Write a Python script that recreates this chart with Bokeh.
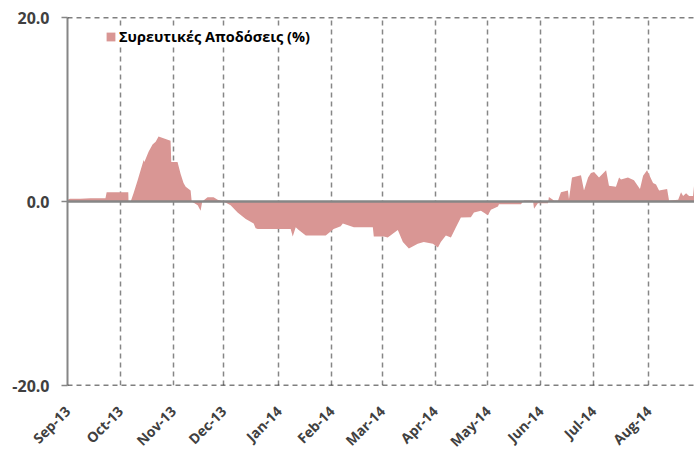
import math
from bokeh.plotting import figure
from bokeh.models import FixedTicker, Span, Legend, LegendItem, ColumnDataSource
from bokeh.embed import file_html
from bokeh.resources import INLINE

# trading-day index and cumulative return (%)
day = [0, 1, 5.4, 9.6, 15.8, 16.3, 20, 25.3, 25.4, 26.3, 27.5, 29.2, 31.7, 32, 33.75,
       35.4, 36.7, 37.9, 41.7, 42.9, 43.2, 45.8, 47.1, 48.3, 49.2, 51.25, 51.7, 54.2,
       55.4, 56.1, 58.3, 60.8, 62.5, 65, 67.9, 70.8, 74.2, 77.5, 78.3, 79.2, 92.9,
       93.75, 95, 96.25, 99.2, 107.5, 110.8, 113.75, 114.6, 119.2, 127.1, 127.5,
       131.7, 133.3, 137.5, 139.6, 142.1, 145.8, 148.3, 152.1, 154.2, 155.4, 157.5,
       159.6, 161.7, 163.75, 167.9, 169.2, 172.1, 175, 176.25, 179.2, 179.6, 188.75,
       190, 193.75, 194.2, 195.8, 200, 200.4, 202.5, 204.2, 205.4, 208.3, 208.75,
       210, 212.9, 213.75, 215, 216.7, 217.9, 219.2, 221.25, 224.2, 225.4, 228.3,
       229.6, 230.4, 233.3, 235.8, 238.3, 239.6, 241.25, 243.75, 245, 246.25, 249.6,
       250.4, 254.2, 255.4, 256.25, 257.5, 258.75, 260.4, 260.8]
ret = [0.2, 0.3, 0.3, 0.35, 0.36, 1.0, 1.0, 1.0, 0.05, 0.0, 0.9, 2.3, 4.5, 4.3, 5.4,
       6.2, 6.5, 7.07, 6.7, 6.6, 4.3, 4.3, 3.0, 2.0, 1.6, 1.2, 0.0, -0.4,
       -1.0, 0.0, 0.47, 0.45, 0.2, 0.0, -0.4, -1.2, -1.9, -2.4, -2.9, -3.0, -3.0,
       -3.8, -2.8, -3.1, -3.7, -3.7, -3.0, -2.7, -2.4, -2.8, -2.8, -3.8,
       -3.8, -3.9, -3.1, -4.4, -5.1, -4.6, -4.4, -4.6, -5.0, -4.4, -3.7,
       -3.9, -2.8, -1.75, -1.7, -1.2, -1.0, -1.5, -0.9, -0.55, -0.3, -0.3,
       0.1, 0.1, -0.8, -0.2, -0.2, 0.5, 0.1, 0.1, 1.0, 1.2, 0.25,
       2.6, 2.8, 2.85, 1.2, 2.6, 3.1, 3.2, 2.6, 3.4, 1.7, 1.6,
       2.6, 2.4, 2.6, 2.3, 1.35, 2.8, 3.4, 2.0, 1.85, 1.2, 1.35,
       0.1, 0.2, 1.0, 0.6, 0.9, 0.6, 0.6, 1.7]

month_pos = [0, 22, 44, 65, 88, 110, 131, 153, 175, 197, 219, 242]
month_labels = ["Sep-13", "Oct-13", "Nov-13", "Dec-13", "Jan-14", "Feb-14",
                "Mar-14", "Apr-14", "May-14", "Jun-14", "Jul-14", "Aug-14"]
y_ticks = [-20, 0, 20]
y_labels = ["-20.0", "0.0", "20.0"]
series_name = "Συρευτικές Αποδόσεις (%)"

FONT = "Open Sans"
AREA = "#D99694"
GRAY = "#868686"
Y_MIN, Y_MAX = -20, 20

p = figure(width=694, height=460, x_range=(0, 261), y_range=(Y_MIN, Y_MAX),
           output_backend="svg", toolbar_location=None,
           min_border_left=67, min_border_top=17, min_border_right=0,
           min_border_bottom=75)
p.outline_line_color = None
p.background_fill_color = "white"

src = ColumnDataSource(dict(x=day, y=ret, z=[0] * len(day)))
r = p.varea(x="x", y1="z", y2="y", source=src, fill_color=AREA)

# x axis
p.xaxis.ticker = FixedTicker(ticks=month_pos)
p.xaxis.major_label_overrides = {m: l for m, l in zip(month_pos, month_labels)}
p.xaxis.major_label_orientation = math.pi / 4
p.xaxis.axis_line_color = None
p.xaxis.major_tick_line_color = None
p.xaxis.minor_tick_line_color = None
p.xaxis.major_label_text_font = FONT
p.xaxis.major_label_text_font_style = "bold"
p.xaxis.major_label_text_font_size = "14px"
p.xaxis.major_label_text_color = "#404040"
p.xaxis.major_label_standoff = 17
p.xgrid.grid_line_color = GRAY
p.xgrid.grid_line_dash = "5 4"
p.xgrid.grid_line_width = 1.5

# y axis
p.yaxis.ticker = FixedTicker(ticks=y_ticks)
p.yaxis.major_label_overrides = {t: l for t, l in zip(y_ticks, y_labels)}
p.yaxis.axis_line_color = GRAY
p.yaxis.axis_line_width = 2
p.yaxis.major_tick_line_color = GRAY
p.yaxis.major_tick_line_width = 1.5
p.yaxis.major_tick_out = 6
p.yaxis.major_tick_in = 0
p.yaxis.minor_tick_line_color = None
p.yaxis.major_label_text_font = FONT
p.yaxis.major_label_text_font_style = "bold"
p.yaxis.major_label_text_font_size = "16px"
p.yaxis.major_label_text_color = "#404040"
p.yaxis.major_label_standoff = 12
p.ygrid.grid_line_color = None

for loc in (Y_MAX, Y_MIN):
    p.add_layout(Span(location=loc, dimension="width", line_color="black",
                      line_dash="5 4", line_width=1.5))
p.add_layout(Span(location=0, dimension="width", line_color=GRAY, line_width=2.5))

legend = Legend(items=[LegendItem(label=series_name, renderers=[r])],
                location=(38, 339), padding=3, margin=0, spacing=0,
                glyph_width=11, glyph_height=11, label_standoff=3,
                label_height=16,
                label_text_font=FONT, label_text_font_style="bold",
                label_text_font_size="14.5px", label_text_color="black",
                border_line_color=None, background_fill_color="white",
                background_fill_alpha=1.0)
p.add_layout(legend)

open("out.html", "w").write(file_html(p, INLINE))
